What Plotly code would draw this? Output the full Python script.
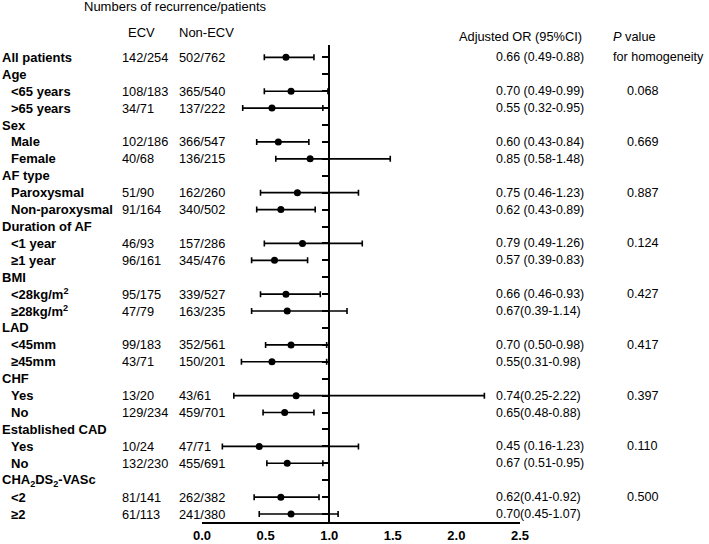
import plotly.graph_objects as go

labels = ["All patients", "Age", "<65 years", ">65 years", "Sex", "Male", "Female",
          "AF type", "Paroxysmal", "Non-paroxysmal", "Duration of AF", "<1 year", "≥1 year",
          "BMI", "<28kg/m<sup>2</sup>", "≥28kg/m<sup>2</sup>", "LAD", "<45mm", "≥45mm",
          "CHF", "Yes", "No", "Established CAD", "Yes", "No",
          "CHA<sub>2</sub>DS<sub>2</sub>-VASc", "<2", "≥2"]
indent = [0, 0, 1, 1, 0, 1, 1, 0, 1, 1, 0, 1, 1, 0, 1, 1, 0, 1, 1, 0, 1, 1, 0, 1, 1, 0, 1, 1]

ecv = ["142/254", "", "108/183", "34/71", "", "102/186", "40/68", "", "51/90", "91/164", "",
       "46/93", "96/161", "", "95/175", "47/79", "", "99/183", "43/71", "", "13/20", "129/234", "",
       "10/24", "132/230", "", "81/141", "61/113"]
non_ecv = ["502/762", "", "365/540", "137/222", "", "366/547", "136/215", "", "162/260", "340/502", "",
           "157/286", "345/476", "", "339/527", "163/235", "", "352/561", "150/201", "", "43/61", "459/701", "",
           "47/71", "455/691", "", "262/382", "241/380"]

odds = [0.66, None, 0.70, 0.55, None, 0.60, 0.85, None, 0.75, 0.62, None, 0.79, 0.57, None,
        0.66, 0.67, None, 0.70, 0.55, None, 0.74, 0.65, None, 0.45, 0.67, None, 0.62, 0.70]
ci_low = [0.49, None, 0.49, 0.32, None, 0.43, 0.58, None, 0.46, 0.43, None, 0.49, 0.39, None,
          0.46, 0.39, None, 0.50, 0.31, None, 0.25, 0.48, None, 0.16, 0.51, None, 0.41, 0.45]
ci_high = [0.88, None, 0.99, 0.95, None, 0.84, 1.48, None, 1.23, 0.89, None, 1.26, 0.83, None,
           0.93, 1.14, None, 0.98, 0.98, None, 2.22, 0.88, None, 1.23, 0.95, None, 0.92, 1.07]
or_text = ["0.66 (0.49-0.88)", "", "0.70 (0.49-0.99)", "0.55 (0.32-0.95)", "", "0.60 (0.43-0.84)",
           "0.85 (0.58-1.48)", "", "0.75 (0.46-1.23)", "0.62 (0.43-0.89)", "", "0.79 (0.49-1.26)",
           "0.57 (0.39-0.83)", "", "0.66 (0.46-0.93)", "0.67(0.39-1.14)", "", "0.70 (0.50-0.98)",
           "0.55(0.31-0.98)", "", "0.74(0.25-2.22)", "0.65(0.48-0.88)", "", "0.45 (0.16-1.23)",
           "0.67 (0.51-0.95)", "", "0.62(0.41-0.92)", "0.70(0.45-1.07)"]
p_values = ["", "", "0.068", "", "", "0.669", "", "", "0.887", "", "", "0.124", "", "",
            "0.427", "", "", "0.417", "", "", "0.397", "", "", "0.110", "", "", "0.500", ""]
x_ticks = [0.0, 0.5, 1.0, 1.5, 2.0, 2.5]

W, H = 709, 544
L, T = 202, 45
R = W - 520
B = H - 522
FONT = "Liberation Sans, Arial, sans-serif"

rows = list(range(len(labels)))
px_, py_, ep, em = [], [], [], []
for i in rows:
    if odds[i] is not None:
        px_.append(odds[i]); py_.append(i)
        ep.append(ci_high[i] - odds[i]); em.append(odds[i] - ci_low[i])

fig = go.Figure()
fig.add_trace(go.Scatter(
    x=px_, y=py_, mode="markers",
    marker=dict(color="black", size=7),
    error_x=dict(type="data", array=ep, arrayminus=em, color="black", thickness=1.6, width=3),
    showlegend=False, hoverinfo="skip"))

def xp(pix):
    return (pix - L) / (W - L - R)

def yp(pix):
    return 1 - (pix - T) / (H - T - B)

ann = []
def add(text, x, y, yref="y", size=13, anchor="left"):
    ann.append(dict(text=text, x=xp(x), y=y, xref="paper", yref=yref, showarrow=False,
                    xanchor=anchor, yanchor="middle", font=dict(family=FONT, size=size, color="black")))

for i in rows:
    add("<b>" + labels[i] + "</b>", 0 + 9 * indent[i], i)
    if ecv[i]:
        add(ecv[i], 120, i, size=12.8)
    if non_ecv[i]:
        add(non_ecv[i], 177, i, size=12.8)
    if or_text[i]:
        add(or_text[i], 494, i, size=12.4)
    if p_values[i]:
        add(p_values[i], 625, i, size=12.6)

add("Numbers of recurrence/patients", 82, yp(7), yref="paper")
add("ECV", 126, yp(32), yref="paper")
add("Non-ECV", 177, yp(32), yref="paper")
add("Adjusted OR (95%CI)", 457, yp(37), yref="paper", size=12.8)
add("<i>P</i> value", 611, yp(37), yref="paper", size=12.8)
add("for homogeneity", 611, yp(57), yref="paper", size=12.6)

fig.update_layout(
    width=W, height=H, autosize=False,
    margin=dict(l=L, r=R, t=T, b=B, pad=0, autoexpand=False),
    plot_bgcolor="white", paper_bgcolor="white",
    font=dict(family=FONT, size=13, color="black"),
    annotations=ann,
    xaxis=dict(range=[0, 2.5], showgrid=False, zeroline=False, showline=True, linewidth=2,
               linecolor="black", tickvals=x_ticks, automargin=False,
               ticktext=["<b>%.1f</b>" % v for v in x_ticks], ticks="",
               tickfont=dict(family=FONT, size=13, color="black")),
    yaxis=dict(range=[27.47, -0.73], showgrid=False, zeroline=False, showline=True, linewidth=2,
               linecolor="black", anchor="free", position=1.0 / 2.5, ticks="outside",
               automargin=False,
               ticklen=6, tickwidth=1.5, tickcolor="black", tickvals=rows, showticklabels=False),
)

fig.write_html("out.html", config={"displayModeBar": False},
               post_script="document.body.style.margin='0px';")
